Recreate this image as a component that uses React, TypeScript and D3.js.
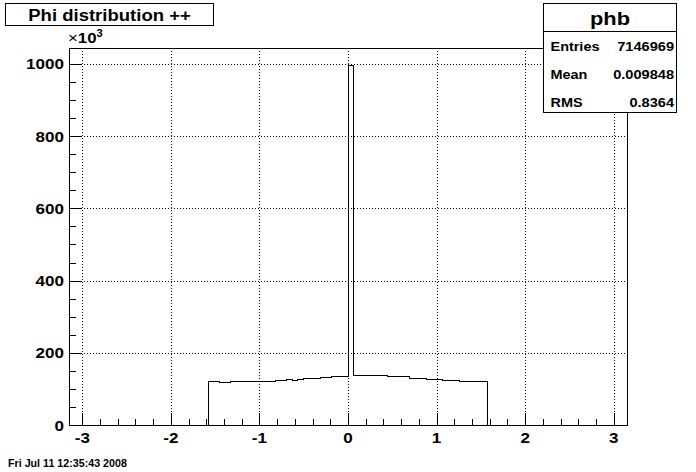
import React from "react";
import * as d3 from "d3";

// Histogram definition (x in radians, counts in thousands)
const histLow = -3.15;
const histHigh = 3.15;
const nBins = 100;
const firstFilledBin = 25;
const filledCounts = [
  120, 120, 117, 117, 120, 120, 120, 120, 120.5, 120.5,
  121, 121, 122.6, 124, 125.4, 123.8, 125.4, 128.2, 128.2, 128.2,
  131, 131, 133, 133, 135.5, 996, 136.5, 136.5, 136.5, 136.5,
  136.5, 136.5, 133.7, 133.7, 133.7, 133.7, 129.3, 129.3, 129.3, 126.5,
  126.5, 126.5, 124.6, 124.6, 124.6, 121, 121, 121, 121, 121,
];
const xMajorTicks = [-3, -2, -1, 0, 1, 2, 3];
const yMajorTicks = [0, 200, 400, 600, 800, 1000];
const yMax = 1044;

const titleText = "Phi distribution ++";
const statsName = "phb";
const statsRows = [
  ["Entries", "7146969"],
  ["Mean", "0.009848"],
  ["RMS", "0.8364"],
];
const dateText = "Fri Jul 11 12:35:43 2008";

const W = 696;
const H = 472;
const FL = 69, FR = 627, FT = 48, FB = 425;
const font = "'Liberation Sans', Arial, Helvetica, sans-serif";

function SText(props: {
  x: number; y: number; size: number; sx?: number; anchor?: string; bold?: boolean; children: React.ReactNode;
}) {
  const { x, y, size, sx = 1, anchor = "start", bold = true, children } = props;
  return (
    <text
      transform={`translate(${x},${y}) scale(${sx},1)`}
      textAnchor={anchor}
      fontFamily={font}
      fontWeight={bold ? "bold" : "normal"}
      fontSize={size}
      fill="#000"
    >
      {children}
    </text>
  );
}

export default function App() {
  const x = d3.scaleLinear().domain([histLow, histHigh]).range([FL, FR]);
  const y = d3.scaleLinear().domain([0, yMax]).range([FB, FT]);
  const binW = (histHigh - histLow) / nBins;
  const counts: number[] = [];
  for (let i = 0; i < nBins; i++) {
    const j = i - firstFilledBin;
    counts.push(j >= 0 && j < filledCounts.length ? filledCounts[j] : 0);
  }
  let d = `M${x(histLow)},${y(0)}`;
  counts.forEach((c, i) => {
    const x0 = x(histLow + i * binW);
    const x1 = x(histLow + (i + 1) * binW);
    d += `L${x0},${y(c)}L${x1},${y(c)}`;
  });
  d += `L${x(histHigh)},${y(0)}`;

  const xMinor = d3.range(-3.0, 3.0001, 0.2).filter(
    (v) => Math.abs(v - Math.round(v)) > 1e-6
  );
  const yMinor = d3.range(0, 1001, 50).filter((v) => v % 200 !== 0);
  const px = (v: number) => Math.round(v) + 0.5;

  return (
    <div style={{ position: "fixed", left: 0, top: 0, width: W, height: H, background: "#fff" }}>
      <svg width={W} height={H} style={{ display: "block" }}>
        <rect x={0} y={0} width={W} height={H} fill="#fff" />
        {/* grid */}
        <g stroke="#000" strokeWidth={1} strokeDasharray="1,2" shapeRendering="crispEdges">
          {xMajorTicks.map((t) => (
            <line key={"gx" + t} x1={px(x(t))} x2={px(x(t))} y1={FT} y2={FB} />
          ))}
          {yMajorTicks.map((t) => (
            <line key={"gy" + t} x1={FL} x2={FR} y1={px(y(t))} y2={px(y(t))} />
          ))}
        </g>
        {/* histogram */}
        <path d={d} fill="none" stroke="#000" strokeWidth={1} shapeRendering="crispEdges" />
        {/* frame */}
        <rect x={FL + 0.5} y={FT + 0.5} width={FR - FL} height={FB - FT} fill="none" stroke="#000" shapeRendering="crispEdges" />
        {/* ticks */}
        <g stroke="#000" strokeWidth={1} shapeRendering="crispEdges">
          {xMajorTicks.map((t) => (
            <line key={"tx" + t} x1={px(x(t))} x2={px(x(t))} y1={FB} y2={FB - 12} />
          ))}
          {xMinor.map((t) => (
            <line key={"mx" + t} x1={px(x(t))} x2={px(x(t))} y1={FB} y2={FB - 6} />
          ))}
          {yMajorTicks.map((t) => (
            <line key={"ty" + t} x1={FL} x2={FL + 12} y1={px(y(t))} y2={px(y(t))} />
          ))}
          {yMinor.map((t) => (
            <line key={"my" + t} x1={FL} x2={FL + 7} y1={px(y(t))} y2={px(y(t))} />
          ))}
        </g>
        {/* tick labels */}
        {xMajorTicks.map((t) => (
          <SText key={"lx" + t} x={x(t)} y={442.5} size={15.5} sx={1.1} anchor="middle">
            {t < 0 ? "-" + Math.abs(t) : String(t)}
          </SText>
        ))}
        {yMajorTicks.map((t) => (
          <SText key={"ly" + t} x={64} y={y(t) + 5.6} size={15.5} sx={1.1} anchor="end">
            {String(t)}
          </SText>
        ))}
        <g transform="translate(68,43) scale(1.12,1)">
          <text fontFamily={font} fontSize={15} fill="#000">
            <tspan fontWeight="normal">×</tspan>
            <tspan fontWeight="bold">10</tspan>
            <tspan fontWeight="bold" fontSize={10} dy={-6}>3</tspan>
          </text>
        </g>
        {/* title box */}
        <rect x={5.5} y={3.5} width={208} height={22} fill="#fff" stroke="#000" shapeRendering="crispEdges" />
        <SText x={109.5} y={20.5} size={17} sx={1.09} anchor="middle">{titleText}</SText>
        {/* stats box */}
        <rect x={543.5} y={3.5} width={133} height={109} fill="#fff" stroke="#000" shapeRendering="crispEdges" />
        <line x1={543} x2={677} y1={31.5} y2={31.5} stroke="#000" shapeRendering="crispEdges" />
        <SText x={610} y={25} size={19} sx={1.15} anchor="middle">{statsName}</SText>
        {statsRows.map((r, i) => (
          <g key={r[0]}>
            <SText x={550.5} y={51 + i * 27.8} size={13.5} sx={1.07}>{r[0]}</SText>
            <SText x={674} y={51 + i * 27.8} size={13.5} sx={1.08} anchor="end">{r[1]}</SText>
          </g>
        ))}
        {/* date */}
        <SText x={8} y={467} size={10} sx={1.07}>{dateText}</SText>
      </svg>
    </div>
  );
}
